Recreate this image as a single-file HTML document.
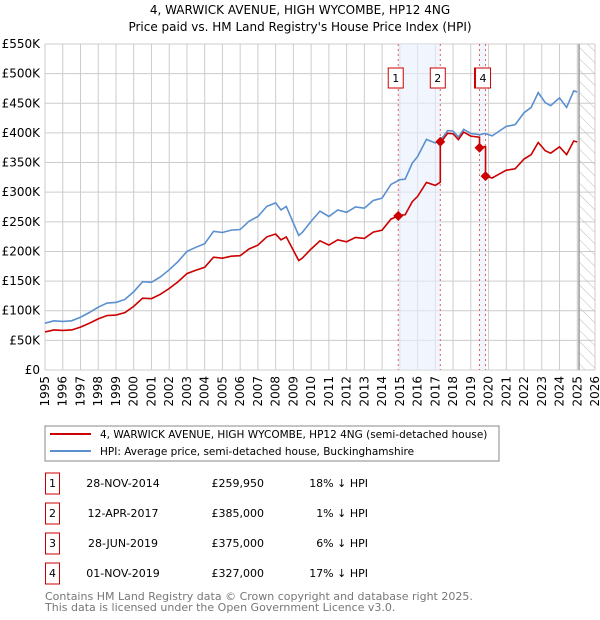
<!DOCTYPE html>
<html><head><meta charset="utf-8"><style>
body{margin:0;background:#fff;font-family:"Liberation Sans","DejaVu Sans",sans-serif;}
#wrap{position:relative;width:600px;height:620px;overflow:hidden;}
svg text{font-family:"DejaVu Sans","Liberation Sans",sans-serif;}
</style></head><body><div id="wrap">
<svg id="chart" width="600" height="620" xmlns="http://www.w3.org/2000/svg">
<defs><pattern id="hatch" width="8" height="8" patternUnits="userSpaceOnUse" patternTransform="rotate(-45)"><line x1="0" y1="0" x2="0" y2="8" stroke="#bbb" stroke-width="1"/></pattern></defs>
<text x="300" y="14" text-anchor="middle" font-size="12">4, WARWICK AVENUE, HIGH WYCOMBE, HP12 4NG</text>
<text x="300" y="31" text-anchor="middle" font-size="12">Price paid vs. HM Land Registry's House Price Index (HPI)</text>
<g id="grid"></g><g id="shade"></g><g id="lines"></g><g id="marks"></g><g id="axes"></g>
<rect x="45" y="426" width="454" height="35" fill="#fff" stroke="#888"/>
<line x1="50" y1="434" x2="91" y2="434" stroke="#cc0000" stroke-width="2"/>
<text x="100" y="438" font-size="10.5">4, WARWICK AVENUE, HIGH WYCOMBE, HP12 4NG (semi-detached house)</text>
<line x1="50" y1="451" x2="91" y2="451" stroke="#5b8fd0" stroke-width="2"/>
<text x="100" y="455" font-size="10.5">HPI: Average price, semi-detached house, Buckinghamshire</text>
<g id="table"></g>
<text x="45" y="600" font-size="11" fill="#777">Contains HM Land Registry data © Crown copyright and database right 2025.</text>
<text x="45" y="611" font-size="11" fill="#777">This data is licensed under the Open Government Licence v3.0.</text>
</svg></div>
<script>
const hpiYears=[1995,1995.5,1996,1996.5,1997,1997.5,1998,1998.5,1999,1999.5,2000,2000.5,2001,2001.5,2002,2002.5,2003,2003.5,2004,2004.5,2005,2005.5,2006,2006.5,2007,2007.5,2008,2008.3,2008.6,2009,2009.3,2009.5,2010,2010.5,2011,2011.5,2012,2012.5,2013,2013.5,2014,2014.5,2015,2015.3,2015.7,2016,2016.5,2017,2017.4,2017.7,2018,2018.3,2018.6,2019,2019.5,2019.8,2020.2,2020.6,2021,2021.5,2022,2022.4,2022.8,2023.2,2023.5,2024,2024.4,2024.8,2025];
const hpiValues=[79,83,82,83,89,97,106,113,114,119,132,149,148,157,169,183,200,207,213,234,232,236,237,251,259,276,282,270,276,248,227,232,251,268,259,270,266,275,273,286,290,313,321,322,349,360,389,383,392,404,403,393,406,399,397,399,395,403,411,414,434,443,468,451,446,459,443,471,469];
const saleLabels=["1","2","3","4"];
const saleDates=["28-NOV-2014","12-APR-2017","28-JUN-2019","01-NOV-2019"];
const saleYears=[2014.91,2017.28,2019.49,2019.83];
const salePrices=[259950,385000,375000,327000];
const salePriceText=["£259,950","£385,000","£375,000","£327,000"];
const salePctText=["18% ↓ HPI","1% ↓ HPI","6% ↓ HPI","17% ↓ HPI"];
const yTicks=[0,50,100,150,200,250,300,350,400,450,500,550];
const yTickLabels=["£0","£50K","£100K","£150K","£200K","£250K","£300K","£350K","£400K","£450K","£500K","£550K"];
const xTicks=[1995,1996,1997,1998,1999,2000,2001,2002,2003,2004,2005,2006,2007,2008,2009,2010,2011,2012,2013,2014,2015,2016,2017,2018,2019,2020,2021,2022,2023,2024,2025,2026];
const dataEnd=2025.1;

const NS="http://www.w3.org/2000/svg";
const X0=45,X1=595,Y0=370,Y1=44;
const xs=t=>X0+(t-1995)/(2026-1995)*(X1-X0);
const ys=v=>Y0-v/550*(Y0-Y1);
function mk(tag,attrs,parent){const e=document.createElementNS(NS,tag);for(const k in attrs)e.setAttribute(k,attrs[k]);document.getElementById(parent).appendChild(e);return e;}
function hpiAt(t){for(let i=0;i<hpiYears.length-1;i++){if(t<=hpiYears[i+1]){const f=(t-hpiYears[i])/(hpiYears[i+1]-hpiYears[i]);return hpiValues[i]+f*(hpiValues[i+1]-hpiValues[i]);}}return hpiValues[hpiValues.length-1];}

yTicks.forEach((v,i)=>{
 const l=mk('line',{x1:X0,x2:X1,y1:ys(v),y2:ys(v),stroke:'#ccc','stroke-width':1},'grid');
 
 
 const t=mk('text',{x:40,y:ys(v)+4,'text-anchor':'end','font-size':12},'axes');t.textContent=yTickLabels[i];
 
 
});
xTicks.forEach(y=>{
 const l=mk('line',{x1:xs(y),x2:xs(y),y1:Y1,y2:Y0,stroke:'#ccc','stroke-width':1},'grid');
 
 
 const t=mk('text',{x:0,y:0,'text-anchor':'end','font-size':12,transform:`translate(${xs(y)+4},376) rotate(-90)`},'axes');t.textContent=y;
 
 
});
const h=mk('rect',{x:xs(dataEnd),y:Y1,width:X1-xs(dataEnd),height:Y0-Y1,fill:'url(#hatch)'},'shade');


const dl=mk('line',{x1:xs(dataEnd),x2:xs(dataEnd),y1:Y1,y2:Y0,stroke:'#999','stroke-width':1.5},'shade');


[[0,1],[2,3]].forEach(p=>{
 const r=mk('rect',{x:xs(saleYears[p[0]]),y:Y1,width:xs(saleYears[p[1]])-xs(saleYears[p[0]]),height:Y0-Y1,fill:'#e8eefc',opacity:0.6},'shade');
 
 
});
saleYears.forEach(s=>{
 const l=mk('line',{x1:xs(s),x2:xs(s),y1:Y1,y2:Y0,stroke:'#e06060','stroke-width':1,'stroke-dasharray':'2,3'},'shade');
 
 
});
const hp=mk('polyline',{points:hpiYears.map((t,i)=>xs(t)+','+ys(hpiValues[i])).join(' '),fill:'none',stroke:'#5b8fd0','stroke-width':1.6},'lines');


const factors=saleYears.map((s,i)=>salePrices[i]/1000/hpiAt(s));
function segFactor(t){let f=factors[0];for(let i=0;i<saleYears.length;i++)if(t>=saleYears[i])f=factors[i];return f;}
let pts=[];
const allT=hpiYears.concat(saleYears).sort((a,b)=>a-b);
allT.forEach(t=>{
 const si=saleYears.indexOf(t);
 if(si>0)pts.push([t,hpiAt(t)*factors[si-1]]);
 pts.push([t,hpiAt(t)*segFactor(t)]);
});
const rl=mk('polyline',{points:pts.map(p=>xs(p[0])+','+ys(p[1])).join(' '),fill:'none',stroke:'#cc0000','stroke-width':1.6},'lines');


saleYears.forEach((s,i)=>{
 const cx=xs(s),cy=ys(salePrices[i]/1000);
 const d=mk('polygon',{points:`${cx},${cy-5} ${cx+5},${cy} ${cx},${cy+5} ${cx-5},${cy}`,fill:'#cc0000'},'marks');
 
 
 let bx=cx-2.5-7.5;
 if(i>0 && xs(saleYears[i-1])>cx-12){}
 if(i<saleYears.length-1 && xs(saleYears[i+1])-cx<12) bx+=5;
 const b=mk('rect',{x:bx,y:68,width:15,height:20,fill:'#fff',stroke:'#cc0000','stroke-width':1},'marks');
 
 
 const t=mk('text',{x:bx+7.5,y:82,'text-anchor':'middle','font-size':11},'marks');t.textContent=saleLabels[i];
 
 
});
saleLabels.forEach((lab,i)=>{
 const cy=483+i*30;
 const b=mk('rect',{x:45.5,y:cy-10,width:14,height:21,fill:'#fff',stroke:'#cc0000'},'table');
 
 
 const n=mk('text',{x:52.5,y:cy+4,'text-anchor':'middle','font-size':11},'table');n.textContent=lab;
 
 
 const d=mk('text',{x:123,y:cy+4,'text-anchor':'middle','font-size':11},'table');d.textContent=saleDates[i];
 
 
 const p=mk('text',{x:264,y:cy+4,'text-anchor':'end','font-size':11},'table');p.textContent=salePriceText[i];
 
 
 const c=mk('text',{x:368,y:cy+4,'text-anchor':'end','font-size':11},'table');c.textContent=salePctText[i];
 
 
});
</script></body></html>
